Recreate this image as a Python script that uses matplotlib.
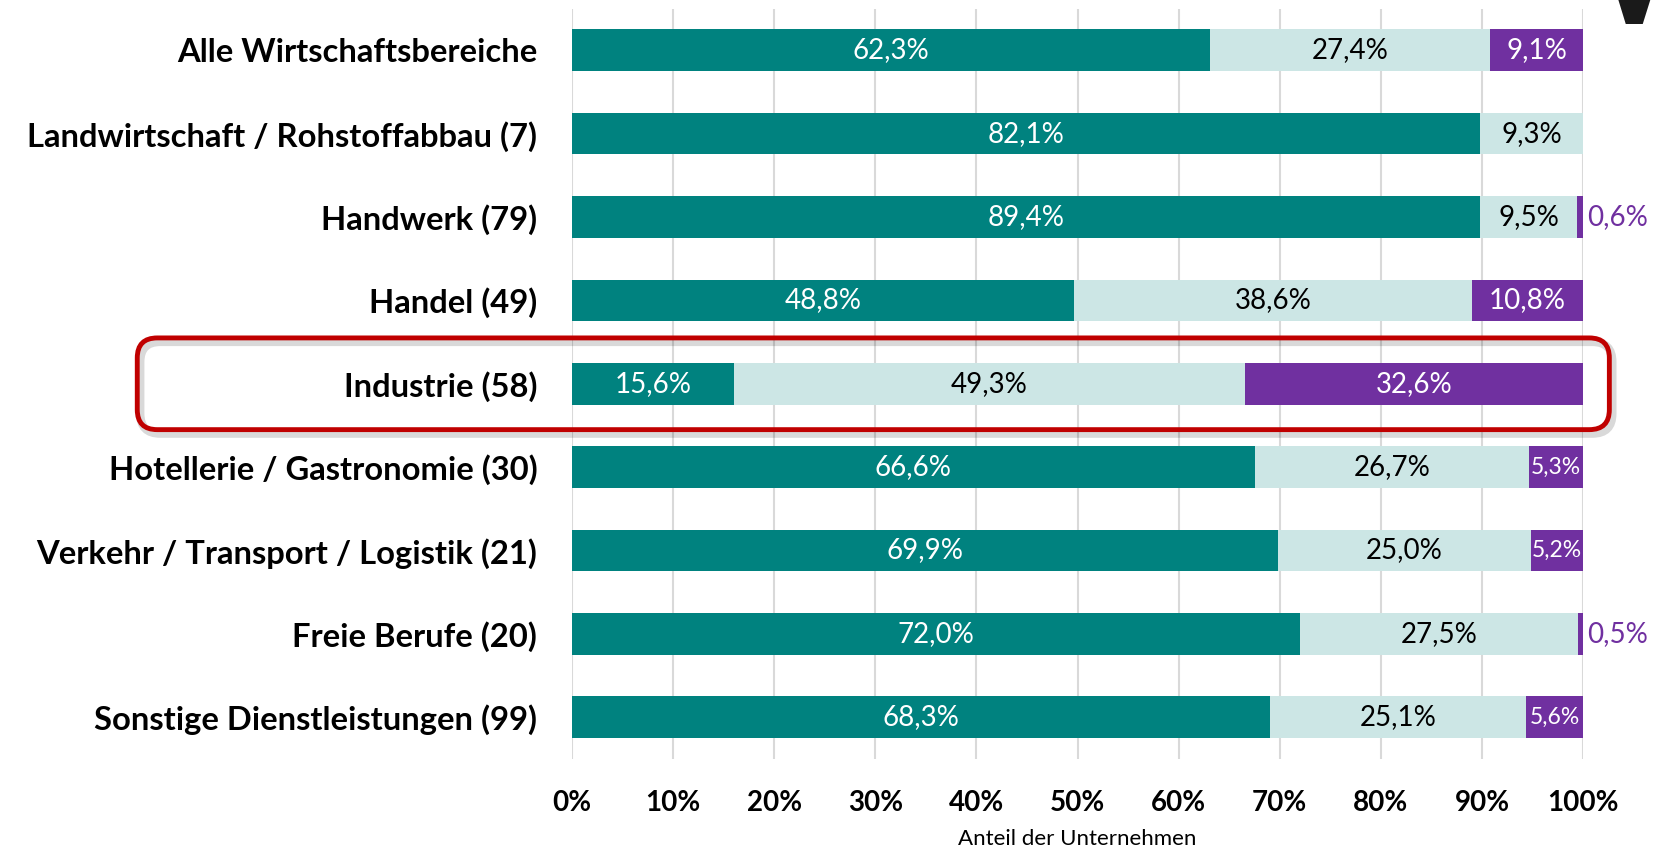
import numpy as np
import matplotlib.pyplot as plt
from matplotlib.patches import FancyBboxPatch
from matplotlib.transforms import IdentityTransform

plt.rcParams['font.family'] = ['Lato', 'DejaVu Sans']

categories = ['Alle Wirtschaftsbereiche',
              'Landwirtschaft / Rohstoffabbau (7)',
              'Handwerk (79)',
              'Handel (49)',
              'Industrie (58)',
              'Hotellerie / Gastronomie (30)',
              'Verkehr / Transport / Logistik (21)',
              'Freie Berufe (20)',
              'Sonstige Dienstleistungen (99)']
teil1 = [62.3, 82.1, 89.4, 48.8, 15.6, 66.6, 69.9, 72.0, 68.3]
teil2 = [27.4, 9.3, 9.5, 38.6, 49.3, 26.7, 25.0, 27.5, 25.1]
teil3 = [9.1, 0.0, 0.6, 10.8, 32.6, 5.3, 5.2, 0.5, 5.6]
highlight = 'Industrie (58)'

TEAL = '#00827F'
LIGHT = '#CCE6E5'
PURPLE = '#7030A0'

def fmt(v):
    return f'{v:.1f}'.replace('.', ',') + '%'

a = np.array(teil1)
b = np.array(teil2)
c = np.array(teil3)
tot = a + b + c
# bars are scaled to 100 %
sa, sb, sc = a / tot * 100, b / tot * 100, c / tot * 100
y = np.arange(len(categories))

fig = plt.figure(figsize=(16.58, 8.58), dpi=100)
ax = fig.add_axes([0.345, 0.1154, 0.6098, 0.8746])

h = 0.5
ax.barh(y, sa, height=h, color=TEAL, zorder=2)
ax.barh(y, sb, left=sa, height=h, color=LIGHT, zorder=2)
ax.barh(y, sc, left=sa + sb, height=h, color=PURPLE, zorder=2)

fs = 20
for i in range(len(categories)):
    ax.text(sa[i] / 2, y[i], fmt(a[i]), ha='center', va='center',
            color='white', fontsize=fs, zorder=3)
    ax.text(sa[i] + sb[i] / 2, y[i], fmt(b[i]), ha='center', va='center',
            color='black', fontsize=fs, zorder=3)
    if c[i] <= 0:
        continue
    if sc[i] < 2:
        ax.text(100.4, y[i], fmt(c[i]), ha='left', va='center',
                color=PURPLE, fontsize=fs, zorder=3)
    else:
        ax.text(sa[i] + sb[i] + sc[i] / 2, y[i], fmt(c[i]), ha='center',
                va='center', color='white', fontsize=fs if sc[i] >= 7 else 16.5,
                zorder=3)

ax.set_xlim(0, 100)
ax.set_ylim(len(categories) - 0.5, -0.5)
ax.set_xticks(np.arange(0, 101, 10))
ax.set_xticklabels([f'{t}%' for t in range(0, 101, 10)], fontsize=20, fontweight='bold')
ax.set_yticks(y)
ax.set_yticklabels(categories, fontsize=23.6, fontweight='bold')
ax.tick_params(axis='both', length=0)
ax.tick_params(axis='x', pad=22)
ax.tick_params(axis='y', pad=25)
ax.grid(axis='x', color='#D9D9D9', linewidth=1.5, zorder=0)
ax.set_axisbelow(True)
for s in ax.spines.values():
    s.set_visible(False)
ax.set_xlabel('Anteil der Unternehmen', fontsize=16, labelpad=10)

# red rounded frame around the highlighted row (in pixel coordinates)
k = categories.index(highlight)
x0 = ax.transAxes.transform((-0.43, 0))[0]
x1 = ax.transAxes.transform((1.026, 0))[0]
y0 = ax.transData.transform((0, k + 0.55))[1]
y1 = ax.transData.transform((0, k - 0.55))[1]
shadow = FancyBboxPatch((x0 + 3, y0 - 4), x1 - x0, y1 - y0,
                        boxstyle='round,pad=0,rounding_size=20',
                        transform=IdentityTransform(), fill=False,
                        edgecolor='black', alpha=0.15, linewidth=6, zorder=4)
box = FancyBboxPatch((x0, y0), x1 - x0, y1 - y0,
                     boxstyle='round,pad=0,rounding_size=20',
                     transform=IdentityTransform(), fill=False,
                     edgecolor='#C00000', linewidth=3.5, zorder=5)
fig.add_artist(shadow)
fig.add_artist(box)

# cut-off logo in the upper right corner
fig.text(0.963, 0.972, 'W', fontsize=90, fontweight='black', color='#1A1A1A',
         ha='left', va='baseline')

fig.savefig('out.png', dpi=100)
